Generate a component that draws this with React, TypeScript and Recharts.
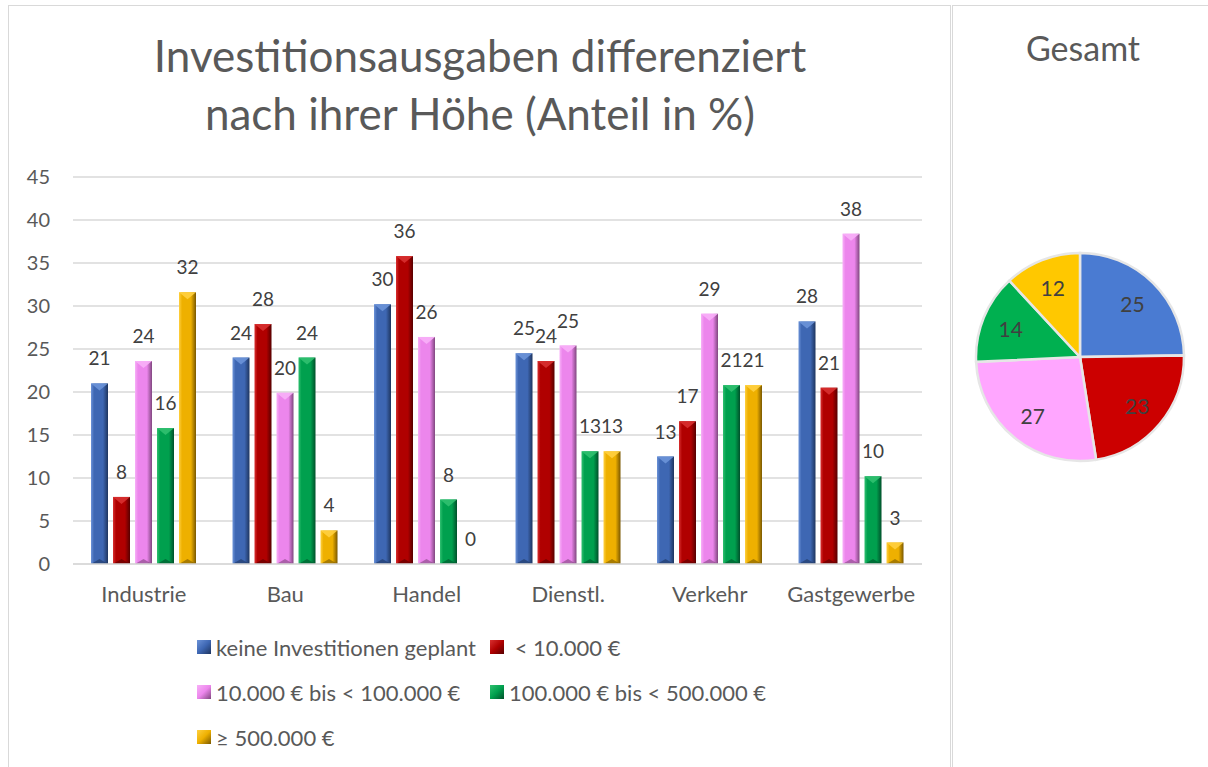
import React from 'react';
import { BarChart, Bar, XAxis, YAxis, CartesianGrid, LabelList, PieChart, Pie, Cell } from 'recharts';

const categories = ['Industrie', 'Bau', 'Handel', 'Dienstl.', 'Verkehr', 'Gastgewerbe'];
const seriesNames = [
  'keine Investitionen geplant',
  ' < 10.000 €',
  '10.000 € bis < 100.000 €',
  '100.000 € bis < 500.000 €',
  '≥ 500.000 €',
];
const keineInvestitionen = [21.0, 24.0, 30.2, 24.5, 12.5, 28.2];
const unter10000 = [7.8, 27.9, 35.8, 23.6, 16.6, 20.5];
const bis100000 = [23.6, 19.9, 26.4, 25.4, 29.1, 38.4];
const bis500000 = [15.8, 24.0, 7.5, 13.1, 20.8, 10.2];
const ab500000 = [31.6, 3.9, 0, 13.1, 20.8, 2.5];
const yTicks = [0, 5, 10, 15, 20, 25, 30, 35, 40, 45];

const gesamtValues = [25, 23, 27, 14, 12];

const barColors = [
  { light: '#6C93D8', main: '#3E67B3', dark: '#1E355F' },
  { light: '#D83030', main: '#B00000', dark: '#560000' },
  { light: '#F8B0F8', main: '#EC86EC', dark: '#80467F' },
  { light: '#30C070', main: '#00A04E', dark: '#00502A' },
  { light: '#FFD040', main: '#EEB000', dark: '#7A5800' },
];
const pieColors = ['#4A7BD2', '#CC0000', '#FFA6FF', '#00B050', '#FFC800'];

const allSeries = [keineInvestitionen, unter10000, bis100000, bis500000, ab500000];
const data = categories.map((c, i) => {
  const row: any = { name: c };
  allSeries.forEach((s, k) => {
    row['s' + k] = s[i];
  });
  return row;
});
const pieData = seriesNames.map((n, i) => ({ name: n, value: gesamtValues[i] }));

const FONT = 'Lato, "Open Sans", "DejaVu Sans", sans-serif';
const TEXT = '#595959';
const GRID = '#D9D9D9';

function makeShape(k: number) {
  return (props: any) => {
    const { x, y, width, height } = props;
    if (!height || height <= 0) return <g />;
    const c = barColors[k];
    const tip = Math.min(7, height / 2);
    return (
      <g>
        <rect x={x} y={y} width={width} height={height} fill={`url(#barGrad${k})`} />
        <polygon points={`${x},${y} ${x + width},${y} ${x + width / 2},${y + tip}`} fill={c.light} opacity={0.9} />
        <polygon
          points={`${x},${y + height} ${x + width},${y + height} ${x + width / 2},${y + height - Math.min(5, height / 2)}`}
          fill={c.dark}
          opacity={0.6}
        />
      </g>
    );
  };
}

const RAD = Math.PI / 180;
function renderPieLabel(props: any) {
  const { cx, cy, midAngle, outerRadius, value } = props;
  const r = outerRadius * 0.72;
  const x = cx + r * Math.cos(-midAngle * RAD);
  const y = cy + r * Math.sin(-midAngle * RAD);
  return (
    <text x={x} y={y} fill="#404040" fontSize={21} fontFamily={FONT} textAnchor="middle" dominantBaseline="central">
      {value}
    </text>
  );
}

function LegendBlock() {
  const rows = [[0, 1], [2, 3], [4]];
  const colX = [197, 490];
  const rowY = [647, 692, 737];
  return (
    <>
      {rows.map((r, ri) =>
        r.map((k, ci) => (
          <div
            key={k}
            style={{
              position: 'absolute',
              left: colX[ci],
              top: rowY[ri] - 14,
              height: 28,
              display: 'flex',
              alignItems: 'center',
              fontFamily: FONT,
              fontSize: 22,
              color: TEXT,
              whiteSpace: 'pre',
            }}
          >
            <span
              style={{
                display: 'inline-block',
                width: 14,
                height: 14,
                marginRight: 5,
                background: `linear-gradient(135deg, ${barColors[k].light} 0%, ${barColors[k].main} 50%, ${barColors[k].dark} 100%)`,
              }}
            />
            {seriesNames[k]}
          </div>
        ))
      )}
    </>
  );
}

export default function App() {
  return (
    <div style={{ position: 'fixed', left: 0, top: 0, width: 1208, height: 767, background: '#fff', overflow: 'hidden', fontFamily: FONT }}>
      <div style={{ position: 'absolute', left: 8, top: 5, width: 941, height: 800, border: `1.5px solid ${GRID}` }} />
      <div style={{ position: 'absolute', left: 952, top: 5, width: 300, height: 800, border: `1.5px solid ${GRID}` }} />

      <div
        style={{
          position: 'absolute',
          left: 8,
          top: 26,
          width: 944,
          textAlign: 'center',
          fontSize: 44,
          lineHeight: '58px',
          color: TEXT,
          fontFamily: FONT,
        }}
      >
        Investitionsausgaben differenziert
        <br />
        nach ihrer Höhe (Anteil in %)
      </div>

      <div style={{ position: 'absolute', left: 0, top: 0 }}>
        <BarChart
          width={950}
          height={767}
          data={data}
          margin={{ top: 177, right: 28, bottom: 173, left: 0 }}
          barSize={17}
          barGap={5}
        >
          <defs>
            {barColors.map((c, k) => (
              <linearGradient key={k} id={`barGrad${k}`} x1="0" y1="0" x2="1" y2="0">
                <stop offset="0%" stopColor={c.light} />
                <stop offset="18%" stopColor={c.main} />
                <stop offset="70%" stopColor={c.main} />
                <stop offset="100%" stopColor={c.dark} />
              </linearGradient>
            ))}
          </defs>
          <CartesianGrid vertical={false} stroke={GRID} strokeWidth={1.3} />
          <XAxis
            dataKey="name"
            height={30}
            tickLine={false}
            tickSize={0}
            tickMargin={22}
            axisLine={{ stroke: GRID, strokeWidth: 1.3 }}
            tick={{ fill: TEXT, fontSize: 22, fontFamily: FONT }}
            interval={0}
          />
          <YAxis
            width={73}
            domain={[0, 45]}
            ticks={yTicks}
            tickLine={false}
            axisLine={false}
            tickSize={0}
            tickMargin={23}
            tick={{ fill: TEXT, fontSize: 20, fontFamily: FONT }}
            interval={0}
          />
          {seriesNames.map((n, k) => (
            <Bar key={k} dataKey={'s' + k} name={n} fill={barColors[k].main} shape={makeShape(k)} isAnimationActive={false}>
              <LabelList
                dataKey={'s' + k}
                position="top"
                offset={18}
                formatter={(v: any) => Math.round(Number(v))}
                fill="#404040"
                fontSize={19}
                fontFamily={FONT}
              />
            </Bar>
          ))}
        </BarChart>
      </div>

      <LegendBlock />

      <div
        style={{
          position: 'absolute',
          left: 952,
          top: 26,
          width: 262,
          textAlign: 'center',
          fontSize: 34,
          lineHeight: '44px',
          color: TEXT,
          fontFamily: FONT,
        }}
      >
        Gesamt
      </div>

      <div style={{ position: 'absolute', left: 952, top: 0 }}>
        <PieChart width={256} height={767} margin={{ top: 0, right: 0, bottom: 0, left: 0 }}>
          <Pie
            data={pieData}
            dataKey="value"
            nameKey="name"
            cx={128}
            cy={357}
            outerRadius={104}
            startAngle={90}
            endAngle={-270}
            stroke="#E6E6E6"
            strokeWidth={2.5}
            label={renderPieLabel}
            labelLine={false}
            isAnimationActive={false}
          >
            {pieData.map((d, i) => (
              <Cell key={i} fill={pieColors[i]} />
            ))}
          </Pie>
        </PieChart>
      </div>
    </div>
  );
}
